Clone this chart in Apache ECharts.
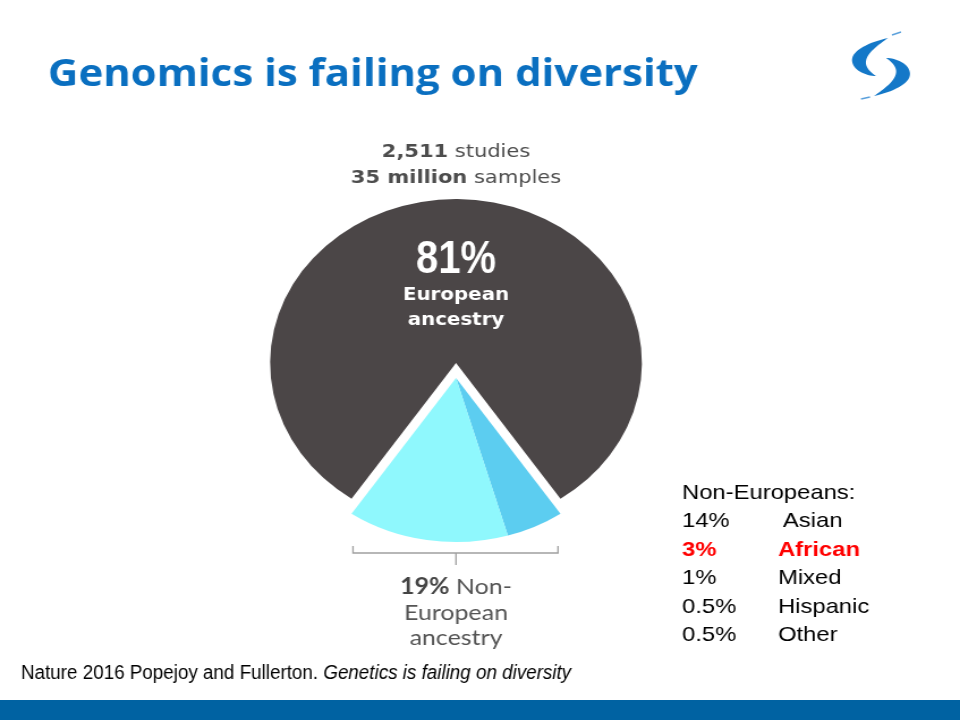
<!DOCTYPE html>
<html>
<head>
<meta charset="utf-8">
<script src="https://cdn.jsdelivr.net/npm/echarts@6/dist/echarts.min.js"></script>
<style>
html,body{margin:0;padding:0;background:#fff;overflow:hidden;width:960px;height:720px;}
#c{position:absolute;left:0;top:0;width:847px;height:720px;transform:scaleX(1.13341);transform-origin:0 0;}
</style>
</head>
<body>
<div id="c"></div>
<script>
// ---- data ----
const groups = ['European', 'Asian', 'African', 'Mixed', 'Hispanic', 'Other'];
const shares = [81, 14, 3, 1, 0.5, 0.5];
const highlightGroup = 'African';
const studiesCount = '2,511';
const samplesCount = '35 million';
const titleText = 'Genomics is failing on diversity';
const sourceText = 'Nature 2016 Popejoy and Fullerton. ';
const sourceTitle = 'Genetics is failing on diversity';

// ---- layout / style ----
const S = 960 / 847;           // slide is stretched horizontally
const X = v => v / S;          // display x -> container x
const CX = X(456), CY = 363, R = 164, EXPLODE = 15;
const colDark = '#4b4647', colAsian = '#8ff8fd', colOther = '#5ccdf0';

const euro = shares[0];
const nonEuro = shares.slice(1).reduce((a, b) => a + b, 0);
const asian = shares[groups.indexOf('Asian')];
const minor = nonEuro - asian;   // African + Mixed + Hispanic + Other
const startAngle = 270 - nonEuro / 100 * 360 / 2;

const darkData = [
  { name: groups[0], value: euro, itemStyle: { color: colDark } },
  { name: 'rest', value: nonEuro, itemStyle: { color: 'rgba(0,0,0,0)' } }
];
const lightData = [
  { name: 'rest', value: euro, itemStyle: { color: 'rgba(0,0,0,0)' } },
  { name: 'African, Mixed, Hispanic, Other', value: minor, itemStyle: { color: colOther } },
  { name: 'Asian', value: asian, itemStyle: { color: colAsian } }
];

const pieCommon = {
  type: 'pie', radius: R, startAngle: startAngle, clockwise: true, silent: true,
  label: { show: false }, labelLine: { show: false }, emphasis: { disabled: true },
  itemStyle: { borderWidth: 0 }, animation: false
};

// logo outline helper (decorative shape)
function bez(p0, p1, p2, p3, n) {
  const pts = [];
  for (let k = 0; k <= n; k++) {
    const t = k / n, u = 1 - t;
    pts.push([
      u*u*u*p0[0] + 3*u*u*t*p1[0] + 3*u*t*t*p2[0] + t*t*t*p3[0],
      u*u*u*p0[1] + 3*u*u*t*p1[1] + 3*u*t*t*p2[1] + t*t*t*p3[1]
    ]);
  }
  return pts;
}
function shape(segs) {
  let pts = [];
  segs.forEach(s => { pts = pts.concat(bez(s[0], s[1], s[2], s[3], 16)); });
  return pts;
}
const logoTop = shape([
  [[888,38],[870,42],[852,50],[852,60]],
  [[852,60],[852,70],[866,76],[876,76]],
  [[876,76],[870,72],[865,67],[866,61]],
  [[866,61],[867,53],[878,45],[888,38]]
]);
const logoBot = logoTop.map(p => [1762 - p[0], 134 - p[1]]);

const gray = '#4d4d4d';
const pieFont = '"DejaVu Sans", sans-serif';
const lowFont = 'Lato, "Open Sans", sans-serif';
const g = [];
g.push({ type: 'rect', shape: { x: 0, y: 700, width: 847, height: 20 }, style: { fill: '#0062a2' }, z: 1 });
g.push({ type: 'text', x: X(48), y: 75, z: 100, style: { text: titleText, font: 'bold 37px "Open Sans", sans-serif', fill: '#0a6fc0', textAlign: 'left', textVerticalAlign: 'middle' } });
g.push({ type: 'group', x: 0, y: 0, scaleX: 1 / S, z: 100, children: [
  { type: 'polygon', shape: { points: logoTop }, style: { fill: '#1478c8' } },
  { type: 'polygon', shape: { points: logoBot }, style: { fill: '#1478c8' } },
  { type: 'line', shape: { x1: 892, y1: 35, x2: 901, y2: 32 }, style: { stroke: '#5aa0dc', lineWidth: 1.5 } },
  { type: 'line', shape: { x1: 861, y1: 99, x2: 870, y2: 97 }, style: { stroke: '#5aa0dc', lineWidth: 1.5 } }
] });
const boldRich = (size, fam, fill) => ({ fontWeight: 'bold', fontSize: size, fontFamily: fam, fill: fill });
const regRich = (size, fam, fill) => ({ fontWeight: 'normal', fontSize: size, fontFamily: fam, fill: fill });
g.push({ type: 'text', x: CX, y: 152, z: 100, style: { text: '{b|' + studiesCount + '}{r| studies}', textAlign: 'center', textVerticalAlign: 'middle', rich: { b: boldRich(18.5, pieFont, gray), r: regRich(18.5, pieFont, gray) } } });
g.push({ type: 'text', x: CX, y: 178, z: 100, style: { text: '{b|' + samplesCount + '}{r| samples}', textAlign: 'center', textVerticalAlign: 'middle', rich: { b: boldRich(18.5, pieFont, gray), r: regRich(18.5, pieFont, gray) } } });
g.push({ type: 'text', x: CX, y: 260, scaleX: 0.75, z: 100, style: { text: euro + '%', font: 'bold 47px "Liberation Sans", Arial, sans-serif', fill: '#fff', textAlign: 'center', textVerticalAlign: 'middle' } });
g.push({ type: 'text', x: CX, y: 295, z: 100, style: { text: groups[0], font: 'bold 17.5px ' + pieFont, fill: '#fff', textAlign: 'center', textVerticalAlign: 'middle' } });
g.push({ type: 'text', x: CX, y: 320, z: 100, style: { text: 'ancestry', font: 'bold 17.5px ' + pieFont, fill: '#fff', textAlign: 'center', textVerticalAlign: 'middle' } });
const bl = X(353), br = X(558), by = 553;
g.push({ type: 'polyline', z: 100, shape: { points: [[bl, by - 7], [bl, by], [br, by], [br, by - 7]] }, style: { stroke: '#a0a0a0', lineWidth: 1.3, fill: null } });
g.push({ type: 'line', z: 100, shape: { x1: CX, y1: by, x2: CX, y2: by + 12 }, style: { stroke: '#a0a0a0', lineWidth: 1.3 } });
const lowGray = '#555555';
g.push({ type: 'text', x: CX, y: 587, z: 100, style: { text: '{b|' + nonEuro + '%}{r| Non-}', textAlign: 'center', textVerticalAlign: 'middle', rich: { b: boldRich(22, lowFont, '#444'), r: regRich(22, lowFont, lowGray) } } });
g.push({ type: 'text', x: CX, y: 613, z: 100, style: { text: groups[0], font: '22px ' + lowFont, fill: lowGray, textAlign: 'center', textVerticalAlign: 'middle' } });
g.push({ type: 'text', x: CX, y: 638, z: 100, style: { text: 'ancestry', font: '22px ' + lowFont, fill: lowGray, textAlign: 'center', textVerticalAlign: 'middle' } });
const listFont = '"Liberation Sans", Arial, sans-serif';
g.push({ type: 'text', x: X(682), y: 493, z: 100, style: { text: 'Non-Europeans:', font: '21px ' + listFont, fill: '#000', textAlign: 'left', textVerticalAlign: 'middle' } });
for (let i = 1; i < groups.length; i++) {
  const y = 521.5 + (i - 1) * 28.5;
  const hl = groups[i] === highlightGroup;
  const f = (hl ? 'bold ' : '') + '21px ' + listFont;
  const col = hl ? '#ff0000' : '#000';
  g.push({ type: 'text', x: X(682), y: y, z: 100, style: { text: shares[i] + '%', font: f, fill: col, textAlign: 'left', textVerticalAlign: 'middle' } });
  g.push({ type: 'text', x: X(i === 1 ? 783 : 778), y: y, z: 100, style: { text: groups[i], font: f, fill: col, textAlign: 'left', textVerticalAlign: 'middle' } });
}
const srcFam = '"Liberation Sans", Arial, sans-serif';
g.push({ type: 'text', x: X(21), y: 673.5, scaleX: 0.83, z: 100, style: { text: '{n|' + sourceText + '}{i|' + sourceTitle + '}', textAlign: 'left', textVerticalAlign: 'middle', rich: { n: { fontSize: 20, fontFamily: srcFam, fill: '#000' }, i: { fontSize: 20, fontFamily: srcFam, fontStyle: 'italic', fill: '#000' } } } });

const chart = echarts.init(document.getElementById('c'), null, { renderer: 'canvas' });
chart.setOption({
  animation: false,
  backgroundColor: '#ffffff',
  series: [
    Object.assign({}, pieCommon, { center: [CX, CY], data: darkData, z: 2 }),
    Object.assign({}, pieCommon, { center: [CX, CY + EXPLODE], data: lightData, z: 3 })
  ],
  graphic: { elements: g }
});
</script>
</body>
</html>
